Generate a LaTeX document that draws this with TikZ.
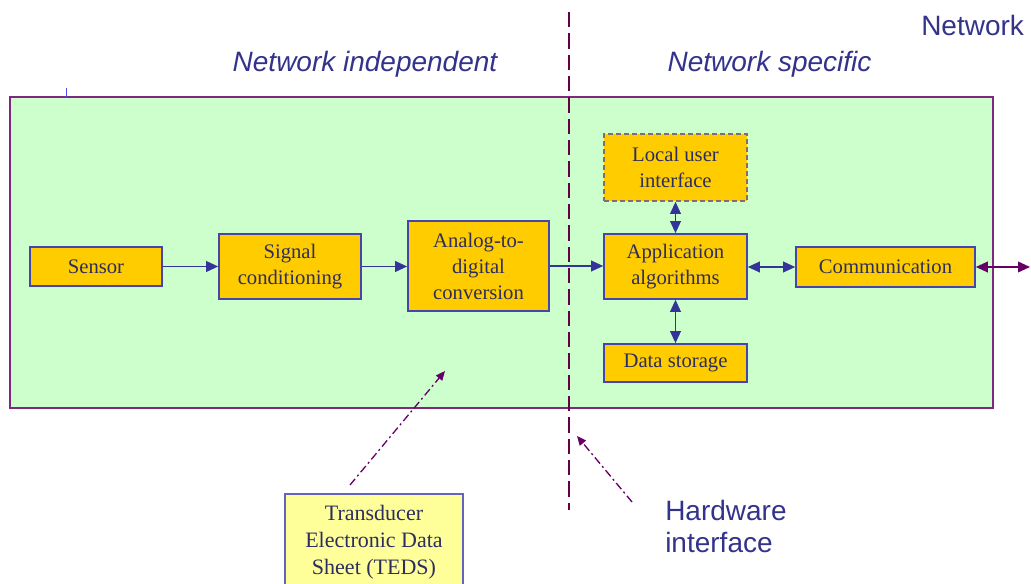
\documentclass[tikz,border=0pt]{standalone}
\usepackage{fontspec}
\setmainfont{Liberation Serif}
\newfontfamily\labelfont{Liberation Sans}
\usetikzlibrary{arrows.meta}
\definecolor{greenbg}{RGB}{204,255,204}
\definecolor{panelborder}{RGB}{128,40,128}
\definecolor{boxfill}{RGB}{255,204,0}
\definecolor{boxborder}{RGB}{70,70,170}
\definecolor{arrowblue}{RGB}{51,51,153}
\definecolor{textnavy}{RGB}{45,45,95}
\definecolor{labelblue}{RGB}{51,51,140}
\definecolor{dividerpurple}{RGB}{102,0,68}
\definecolor{notepurple}{RGB}{102,0,102}
\definecolor{tedsfill}{RGB}{255,255,153}
\definecolor{tedsborder}{RGB}{100,100,190}
\tikzset{
  blk/.style={draw=boxborder, line width=1.2pt, fill=boxfill, text=textnavy,
    align=center, font=\fontsize{15.5}{19.5}\selectfont, inner sep=0pt},
  flow/.style={draw=arrowblue, line width=1.2pt, -{Triangle[length=9pt,width=8pt]}},
  bothflow/.style={draw=arrowblue, line width=1.2pt, {Triangle[length=9pt,width=8pt]}-{Triangle[length=9pt,width=8pt]}},
  notearrow/.style={draw=notepurple, line width=1pt, dash pattern=on 6pt off 2.5pt on 1.5pt off 2.5pt, -{Triangle[length=7pt,width=6pt]}},
  biglabel/.style={text=labelblue, font=\labelfont\fontsize{21}{24}\selectfont, inner sep=0pt},
}
\begin{document}
\begin{tikzpicture}[x=0.75pt, y=-0.75pt]
\useasboundingbox (0,0) rectangle (1031,584);
\fill[white] (0,0) rectangle (1031,584);

% panel
\draw[panelborder, line width=1.2pt, fill=greenbg] (10,97) rectangle (993,408);
\draw[blue!70, line width=0.6pt] (66,88) -- (66,97);

% labels
\node[biglabel, font=\labelfont\itshape\fontsize{21}{24}\selectfont] (indep) at (365,64) {Network independent};
\node[biglabel, font=\labelfont\itshape\fontsize{21}{24}\selectfont] (spec) at (769.5,64) {Network specific};
\node[biglabel, anchor=west] (net) at (921,25) {Network};

% divider
\coordinate (divtop) at (569,12);
\coordinate (divbot) at (569,510);
\draw[dividerpurple, line width=1.9pt, dash pattern=on 11.5pt off 4.5pt] (divtop) -- (divbot);

% blocks
\node[blk, minimum width=99pt, minimum height=29.25pt] (sensor) at (96,266.5) {Sensor};
\node[blk, minimum width=106.5pt, minimum height=48.75pt] (sig) at (290,266.5) {Signal\\conditioning};
\node[blk, minimum width=105.75pt, minimum height=67.5pt] (adc) at (478.5,266) {Analog-to-\\digital\\conversion};
\node[blk, dashed, dash pattern=on 4pt off 2pt, draw=boxborder!70!boxfill, minimum width=107.25pt, minimum height=50.25pt] (lui) at (675.5,167.5) {Local user\\interface};
\node[blk, minimum width=107.25pt, minimum height=48.75pt] (app) at (675.5,266.5) {Application\\algorithms};
\node[blk, minimum width=107.25pt, minimum height=28.5pt] (ds) at (675.5,363) {Data storage};
\node[blk, minimum width=134.25pt, minimum height=30pt] (comm) at (885.5,267) {Communication};

% connectors
\draw[flow] (sensor.east) -- (sig.west |- sensor.east);
\draw[flow] (sig.east) -- (adc.west |- sig.east);
\draw[flow] (adc.east) -- (app.west |- adc.east);
\draw[bothflow] (app.east |- comm.west) -- (comm.west);
\draw[bothflow] (lui.south) -- (app.north);
\draw[bothflow] (app.south) -- (ds.north);
\coordinate (netend) at (1030,267);
\draw[notepurple, line width=1.2pt, {Triangle[length=9pt,width=8pt]}-{Triangle[length=9pt,width=8pt]}] (comm.east) -- (netend);

% TEDS
\node[draw=tedsborder, line width=1pt, fill=tedsfill, text=textnavy, align=center,
  font=\fontsize{16.5}{20.25}\selectfont, minimum width=133.5pt, minimum height=72pt, inner sep=0pt]
  (teds) at (374,542) {Transducer\\Electronic Data\\Sheet (TEDS)};
\coordinate (tedsfrom) at (350,485);
\coordinate (tedsto) at (445,371);
\draw[notearrow] (tedsfrom) -- (tedsto);

% hardware interface
\node[biglabel, anchor=west, align=left, font=\labelfont\fontsize{21}{24}\selectfont] (hw) at (665,526) {Hardware\\interface};
\coordinate (hwfrom) at (632,502);
\coordinate (hwto) at (577,436);
\draw[notearrow] (hwfrom) -- (hwto);
\end{tikzpicture}
\end{document}
